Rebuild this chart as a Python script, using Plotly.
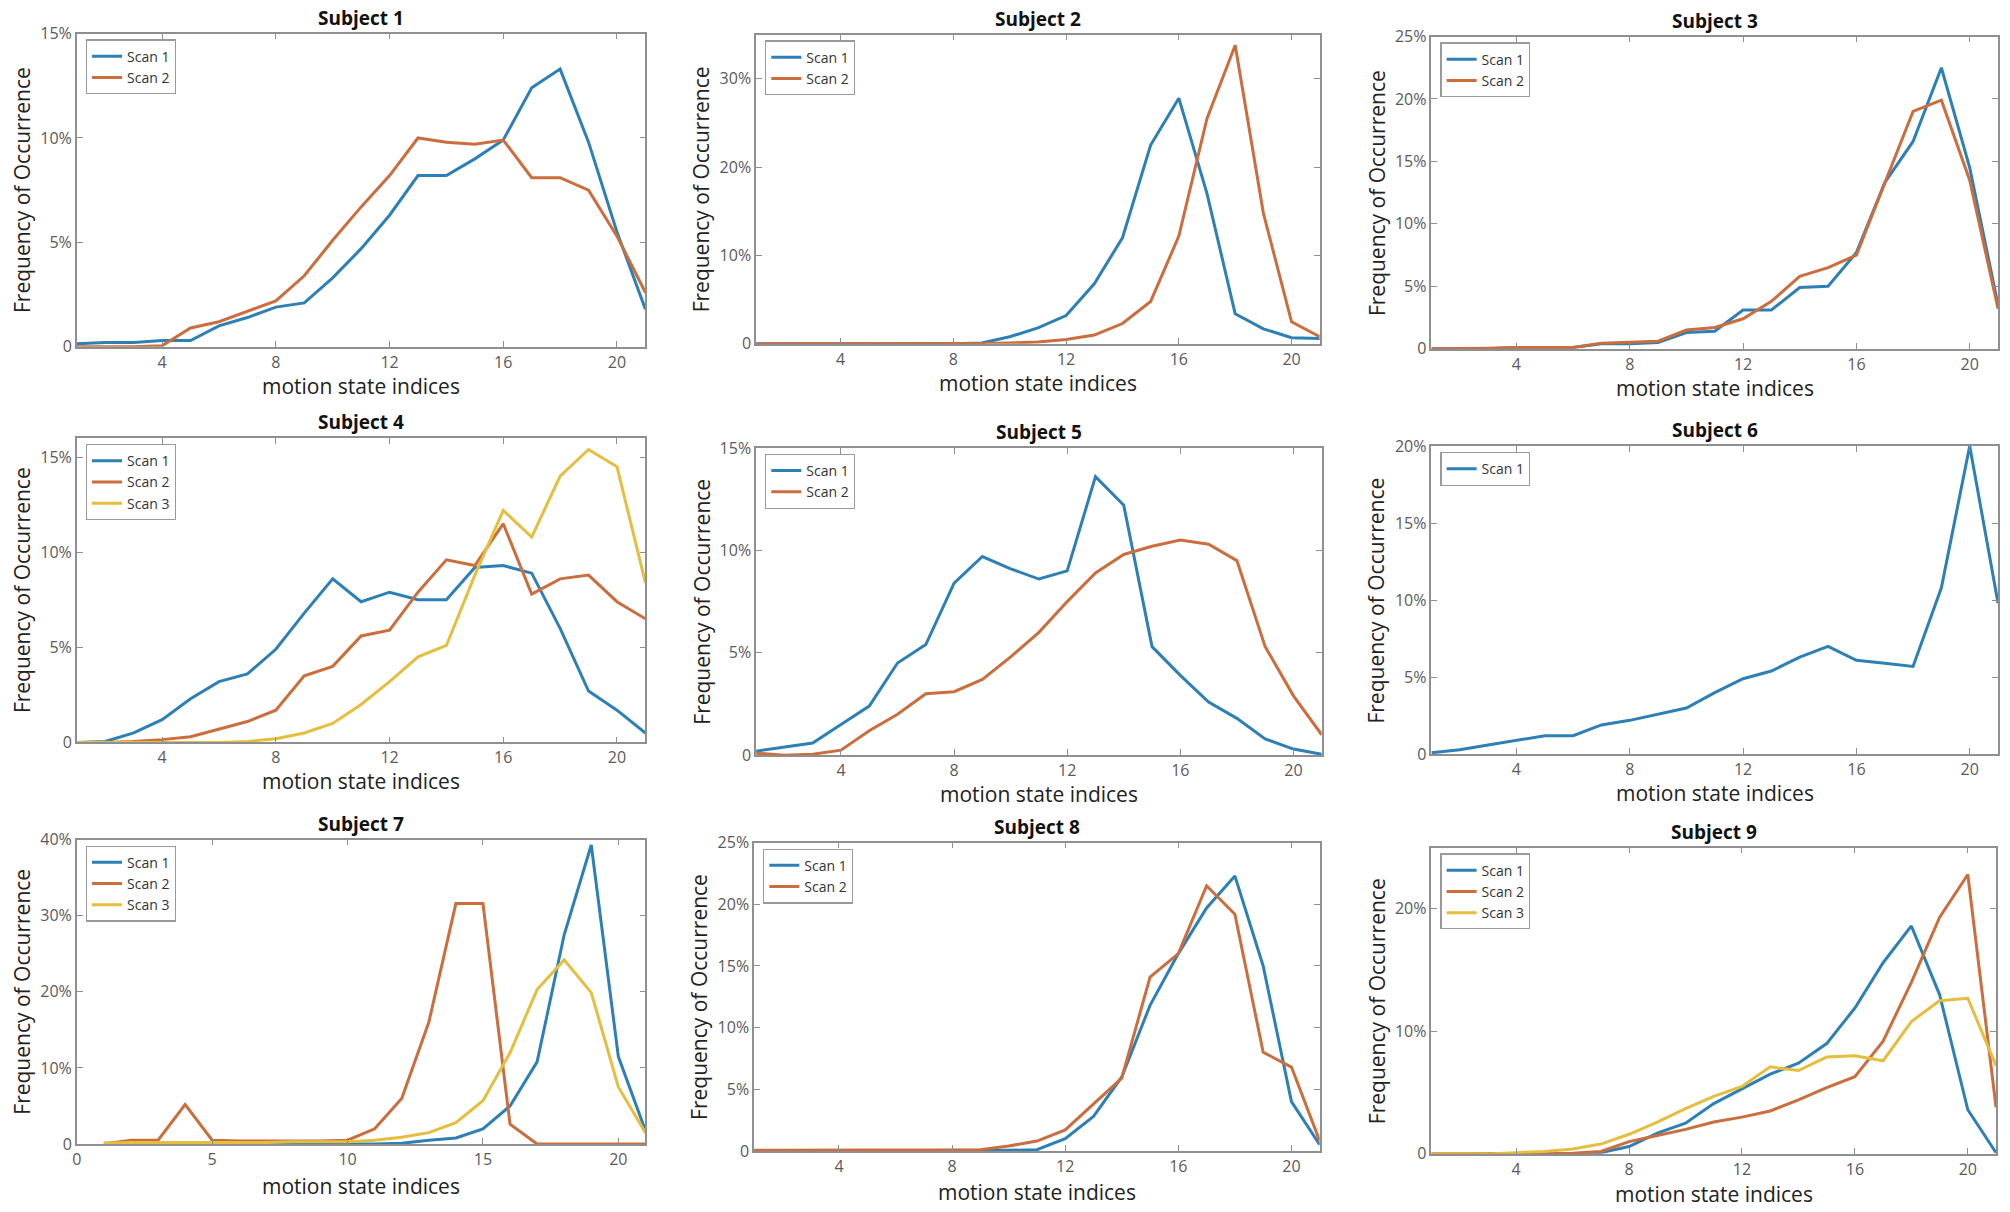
import plotly.graph_objects as go

# ---------------- data (percent of occurrence per motion state) ----------------
states = list(range(1, 22))

s1_scan1 = [0.15, 0.2, 0.2, 0.3, 0.3, 1.0, 1.4, 1.9, 2.1, 3.3, 4.7, 6.3, 8.2, 8.2, 9.0, 9.9, 12.4, 13.3, 9.8, 5.5, 1.8]
s1_scan2 = [0.0, 0.0, 0.0, 0.05, 0.9, 1.2, 1.7, 2.2, 3.4, 5.1, 6.7, 8.2, 10.0, 9.8, 9.7, 9.9, 8.1, 8.1, 7.5, 5.3, 2.6]

s2_scan1 = [0, 0, 0, 0, 0, 0, 0, 0, 0.1, 0.8, 1.8, 3.2, 6.8, 12.0, 22.5, 27.8, 17.0, 3.4, 1.7, 0.7, 0.6]
s2_scan2 = [0, 0, 0, 0, 0, 0, 0, 0, 0.05, 0.1, 0.2, 0.5, 1.0, 2.3, 4.8, 12.2, 25.5, 33.8, 14.8, 2.5, 0.8]

s3_scan1 = [0, 0, 0, 0.1, 0.1, 0.1, 0.4, 0.4, 0.5, 1.3, 1.4, 3.1, 3.1, 4.9, 5.0, 7.7, 13.3, 16.6, 22.5, 14.5, 3.5]
s3_scan2 = [0, 0, 0.05, 0.1, 0.1, 0.1, 0.45, 0.5, 0.6, 1.5, 1.7, 2.4, 3.8, 5.8, 6.5, 7.5, 13.2, 19.0, 19.9, 13.5, 3.2]

s4_scan1 = [0, 0.05, 0.5, 1.2, 2.3, 3.2, 3.6, 4.9, 6.8, 8.6, 7.4, 7.9, 7.5, 7.5, 9.2, 9.3, 8.9, 6.0, 2.7, 1.7, 0.5]
s4_scan2 = [0, 0, 0.05, 0.15, 0.3, 0.7, 1.1, 1.7, 3.5, 4.0, 5.6, 5.9, 7.9, 9.6, 9.3, 11.5, 7.8, 8.6, 8.8, 7.4, 6.5]
s4_scan3 = [0, 0, 0, 0, 0, 0, 0.05, 0.2, 0.5, 1.0, 2.0, 3.2, 4.5, 5.1, 8.8, 12.2, 10.8, 14.0, 15.4, 14.5, 8.4]

s5_scan1 = [0.2, 0.4, 0.6, 1.5, 2.4, 4.5, 5.4, 8.4, 9.7, 9.1, 8.6, 9.0, 13.6, 12.2, 5.3, 3.9, 2.6, 1.8, 0.8, 0.3, 0.05]
s5_scan2 = [0.1, 0.0, 0.05, 0.25, 1.2, 2.0, 3.0, 3.1, 3.7, 4.8, 6.0, 7.5, 8.9, 9.8, 10.2, 10.5, 10.3, 9.5, 5.3, 2.9, 1.0]

s6_scan1 = [0.1, 0.3, 0.6, 0.9, 1.2, 1.2, 1.9, 2.2, 2.6, 3.0, 4.0, 4.9, 5.4, 6.3, 7.0, 6.1, 5.9, 5.7, 10.8, 20.0, 9.8]

s7_scan1 = [0.1, 0.1, 0.1, 0.1, 0.1, 0.1, 0.1, 0.0, 0.0, 0.05, 0.0, 0.1, 0.5, 0.8, 2.0, 5.0, 10.8, 27.5, 39.3, 11.5, 1.8]
s7_scan2 = [0.0, 0.5, 0.5, 5.2, 0.5, 0.4, 0.4, 0.4, 0.4, 0.5, 2.0, 6.0, 16.0, 31.6, 31.6, 2.6, 0.0, 0.0, 0.0, 0.0, 0.0]
s7_scan3 = [0.1, 0.2, 0.2, 0.2, 0.2, 0.2, 0.2, 0.3, 0.3, 0.3, 0.5, 0.9, 1.5, 2.8, 5.7, 12.0, 20.3, 24.2, 19.9, 7.5, 1.5]

s8_scan1 = [0, 0, 0, 0, 0, 0, 0, 0.05, 0.05, 0.05, 0.1, 1.0, 2.8, 6.0, 11.8, 16.0, 19.7, 22.3, 15.0, 4.0, 0.5]
s8_scan2 = [0.05, 0.05, 0.05, 0.05, 0.05, 0.05, 0.05, 0.1, 0.1, 0.4, 0.8, 1.7, 3.8, 5.9, 14.1, 16.0, 21.5, 19.2, 8.0, 6.8, 0.8]

s9_scan1 = [0, 0, 0, 0, 0, 0, 0.1, 0.6, 1.7, 2.5, 4.1, 5.3, 6.5, 7.4, 9.0, 11.9, 15.6, 18.6, 13.0, 3.6, 0.1]
s9_scan2 = [0, 0, 0, 0, 0, 0.05, 0.2, 1.0, 1.5, 2.0, 2.6, 3.0, 3.5, 4.4, 5.4, 6.3, 9.2, 14.0, 19.3, 22.8, 3.8]
s9_scan3 = [0, 0, 0, 0.1, 0.2, 0.4, 0.8, 1.6, 2.6, 3.7, 4.7, 5.5, 7.1, 6.8, 7.9, 8.0, 7.6, 10.8, 12.5, 12.7, 7.2]

subject_titles = ["Subject 1", "Subject 2", "Subject 3", "Subject 4", "Subject 5",
                  "Subject 6", "Subject 7", "Subject 8", "Subject 9"]
scan_names = ["Scan 1", "Scan 2", "Scan 3"]

subject_series = [
    [s1_scan1, s1_scan2],
    [s2_scan1, s2_scan2],
    [s3_scan1, s3_scan2],
    [s4_scan1, s4_scan2, s4_scan3],
    [s5_scan1, s5_scan2],
    [s6_scan1],
    [s7_scan1, s7_scan2, s7_scan3],
    [s8_scan1, s8_scan2],
    [s9_scan1, s9_scan2, s9_scan3],
]

# y-axis max (percent) and tick values / labels
y_max = [15, 35, 25, 16, 15, 20, 40, 25, 25]
y_tickvals = [
    [0, 5, 10, 15], [0, 10, 20, 30], [0, 5, 10, 15, 20, 25],
    [0, 5, 10, 15], [0, 5, 10, 15], [0, 5, 10, 15, 20],
    [0, 10, 20, 30, 40], [0, 5, 10, 15, 20, 25], [0, 10, 20],
]
x_tickvals_std = [4, 8, 12, 16, 20]
x_tickvals_s7 = [0, 5, 10, 15, 20]

x_title = "motion state indices"
y_title = "Frequency of Occurrence"

# ---------------- layout / style ----------------
W, H = 2010, 1212
# plot-area pixel boxes: left, right, top, bottom
boxes = [
    (72, 642, 23, 342), (753, 1318, 24, 339), (1430, 1998, 26, 344),
    (72, 642, 435, 745), (753, 1320, 445, 758), (1430, 1998, 443, 757),
    (72, 642, 844, 1154), (751, 1318, 847, 1161), (1430, 1996, 852, 1164),
]
xtitle_shift = [-39, -39, -39, -39, -39, -39, -42, -41, -40]
colors = ["#2D80B5", "#CB6D3D", "#E6BE3E"]
axis_col = "#8f8f8f"
FONT = "Open Sans, Noto Sans, sans-serif"
tick_font = dict(family=FONT, size=16, color="#5a5a5a")
label_font = dict(family=FONT, size=21, color="#222222")
title_font = dict(family=FONT, size=19, color="#111111")

fig = go.Figure()
annotations = []
layout_upd = {}

def pct_label(v):
    return "0" if v == 0 else f"{v}%"

for i, (series, box) in enumerate(zip(subject_series, boxes)):
    n = i + 1
    xa = "xaxis" if n == 1 else f"xaxis{n}"
    ya = "yaxis" if n == 1 else f"yaxis{n}"
    xr = "x" if n == 1 else f"x{n}"
    yr = "y" if n == 1 else f"y{n}"
    lg = "legend" if n == 1 else f"legend{n}"
    l, r, t, b = box

    for k, vals in enumerate(series):
        fig.add_trace(go.Scatter(
            x=states, y=vals, mode="lines", name=scan_names[k],
            line=dict(color=colors[k], width=3),
            xaxis=xr, yaxis=yr, legend=lg, showlegend=True,
        ))

    is7 = (n == 7)
    layout_upd[xa] = dict(
        domain=[l / W, r / W], anchor=yr,
        range=[0, 21] if is7 else [1, 21],
        tickvals=x_tickvals_s7 if is7 else x_tickvals_std,
        ticks="inside", ticklen=6, tickcolor=axis_col, tickwidth=1.2,
        showline=True, linecolor=axis_col, linewidth=1.6, mirror="ticks",
        showgrid=False, zeroline=False, tickfont=tick_font,
    )
    layout_upd[ya] = dict(
        domain=[1 - b / H, 1 - t / H], anchor=xr,
        range=[0, y_max[i]],
        tickvals=y_tickvals[i], ticktext=[pct_label(v) for v in y_tickvals[i]],
        ticks="inside", ticklen=6, tickcolor=axis_col, tickwidth=1.2,
        showline=True, linecolor=axis_col, linewidth=1.6, mirror="ticks",
        showgrid=False, zeroline=False, tickfont=tick_font,
    )
    layout_upd[lg] = dict(
        x=(l + 9) / W, y=1 - (t + 6) / H, xref="paper", yref="paper",
        xanchor="left", yanchor="top",
        bgcolor="white", bordercolor="#9a9a9a", borderwidth=1.2,
        font=dict(family=FONT, size=14, color="#333333"),
        tracegroupgap=0, itemwidth=30,
    )

    annotations.append(dict(
        text=f"<b>{subject_titles[i]}</b>", xref=f"{xr} domain", yref=f"{yr} domain",
        x=0.5, y=1, xanchor="center", yanchor="bottom", yshift=1,
        showarrow=False, font=title_font,
    ))
    annotations.append(dict(
        text=x_title, xref=f"{xr} domain", yref=f"{yr} domain",
        x=0.5, y=0, xanchor="center", yanchor="middle", yshift=xtitle_shift[i],
        showarrow=False, font=label_font,
    ))
    annotations.append(dict(
        text=y_title, xref=f"{xr} domain", yref=f"{yr} domain",
        x=0, y=0.5, xanchor="center", yanchor="middle", xshift=-55,
        textangle=-90, showarrow=False, font=label_font,
    ))

fig.update_layout(
    width=W, height=H,
    margin=dict(l=0, r=0, t=0, b=0),
    paper_bgcolor="white", plot_bgcolor="white",
    annotations=annotations,
    **layout_upd,
)

fig.write_html("out.html", config={"displayModeBar": False},
               post_script="document.body.style.margin='0';")
